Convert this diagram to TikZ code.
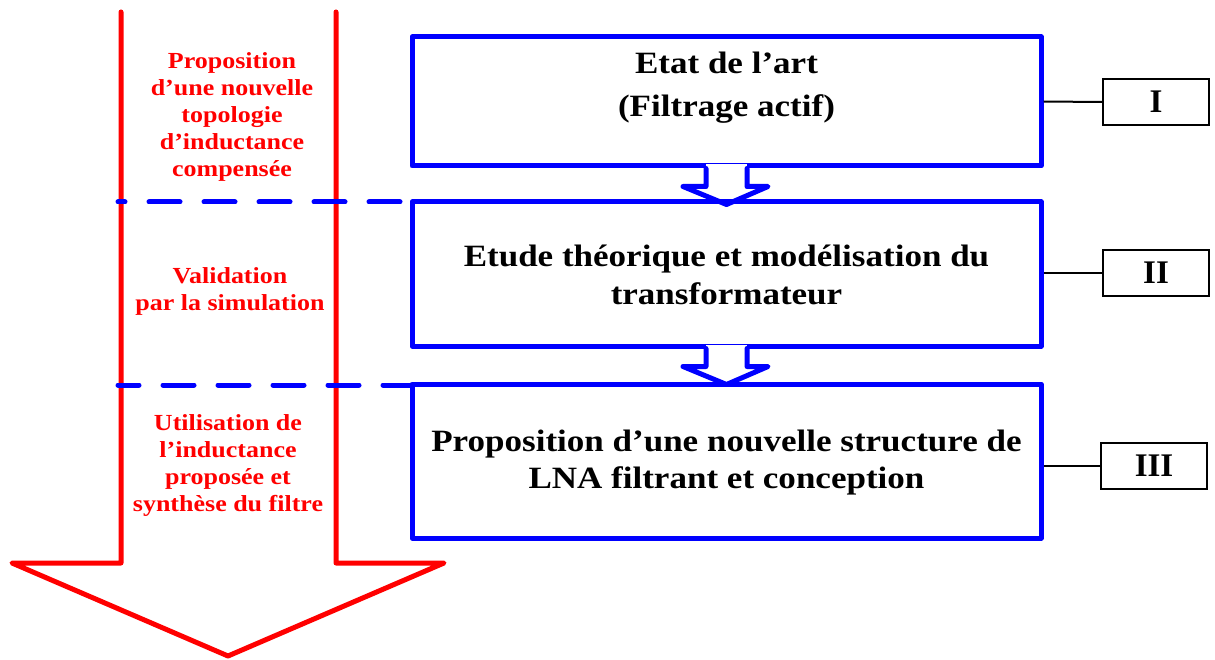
\documentclass[tikz,border=0pt]{standalone}
\usepackage{fontspec}
\setmainfont{Liberation Serif}[FakeStretch=1.13]
\newfontfamily\plainserif{Liberation Serif}
\usetikzlibrary{calc}
\begin{document}
\begin{tikzpicture}[x=1pt,y=-1pt,
  stepbox/.style={draw=blue, line width=5pt, minimum width=629pt, inner sep=0pt, line join=round},
  numbox/.style={draw=black, line width=2.5pt, minimum width=106pt, minimum height=46pt, inner sep=0pt, font=\plainserif\bfseries\fontsize{33}{36}\selectfont},
  maintext/.style={align=center, inner sep=0pt},
  sidetext/.style={align=center, text=red, inner sep=0pt, font=\bfseries\fontsize{23}{27}\selectfont},
  flowarrow/.style={draw=blue, line width=5pt, line join=round, line cap=round},
  bigarrow/.style={draw=red, line width=5pt, line join=round, line cap=round},
  dashline/.style={draw=blue, line width=5pt, line cap=round, dash pattern=on 31pt off 24pt},
  link/.style={draw=black, line width=2pt}]
\useasboundingbox (0,0) rectangle (1215,660);

% big red arrow
\draw[bigarrow] (121,12) -- (121,563) -- (12,563) -- (228,656) -- (444,563) -- (336,563) -- (336,12);

% blue boxes
\node[stepbox, minimum height=129pt] (b1) at (726.5,101.5) {};
\node[stepbox, minimum height=144pt] (b2) at (726.5,274) {};
\node[stepbox, minimum height=154pt] (b3) at (726.5,461) {};

% block arrows between boxes
\foreach \src in {b1,b2}{
  \begin{scope}[shift={(\src.south)}]
    \fill[white] (-20.5,-4) rectangle (20.5,4);
    \draw[flowarrow] (-20.5,0) -- (-20.5,18) -- (-43.5,18) -- (0,36) -- (41.5,18) -- (20.5,18) -- (20.5,0);
  \end{scope}
}

% dashed separators
\coordinate (d1s) at (118,202);
\coordinate (d1e) at (400,202);
\coordinate (d2s) at (118,385);
\coordinate (d2e) at (413,385);
\draw[dashline, dash phase=24pt] (d1s) -- (d1e);
\draw[dashline, dash phase=10pt] (d2s) -- (d2e);

% main texts
\node[maintext, font=\bfseries\fontsize{31}{43}\selectfont] (t1) at (726.5,87.5) {Etat de l’art\\(Filtrage actif)};
\node[maintext, font=\bfseries\fontsize{31}{38}\selectfont] (t2) at (726.5,275) {Etude théorique et modélisation du\\transformateur};
\node[maintext, font=\bfseries\fontsize{31}{37}\selectfont] (t3) at (726.5,462.5) {Proposition d’une nouvelle structure de\\LNA filtrant et conception};

% side texts
\node[sidetext] (r1) at (232,117) {Proposition\\d’une nouvelle\\topologie\\d’inductance\\compensée};
\node[sidetext] (r2) at (230,291.5) {Validation\\par la simulation};
\node[sidetext] (r3) at (228,465.5) {Utilisation de\\l’inductance\\proposée et\\synthèse du filtre};

% chapter labels
\node[numbox] (l1) at (1156,102) {I};
\node[numbox] (l2) at (1156,273) {II};
\node[numbox] (l3) at (1154,466) {III};
\draw[link] (b1.east) -- (l1.west);
\draw[link] (l2.west) -- (l2.west -| b2.east);
\draw[link] (l3.west) -- (l3.west -| b3.east);
\end{tikzpicture}
\end{document}
